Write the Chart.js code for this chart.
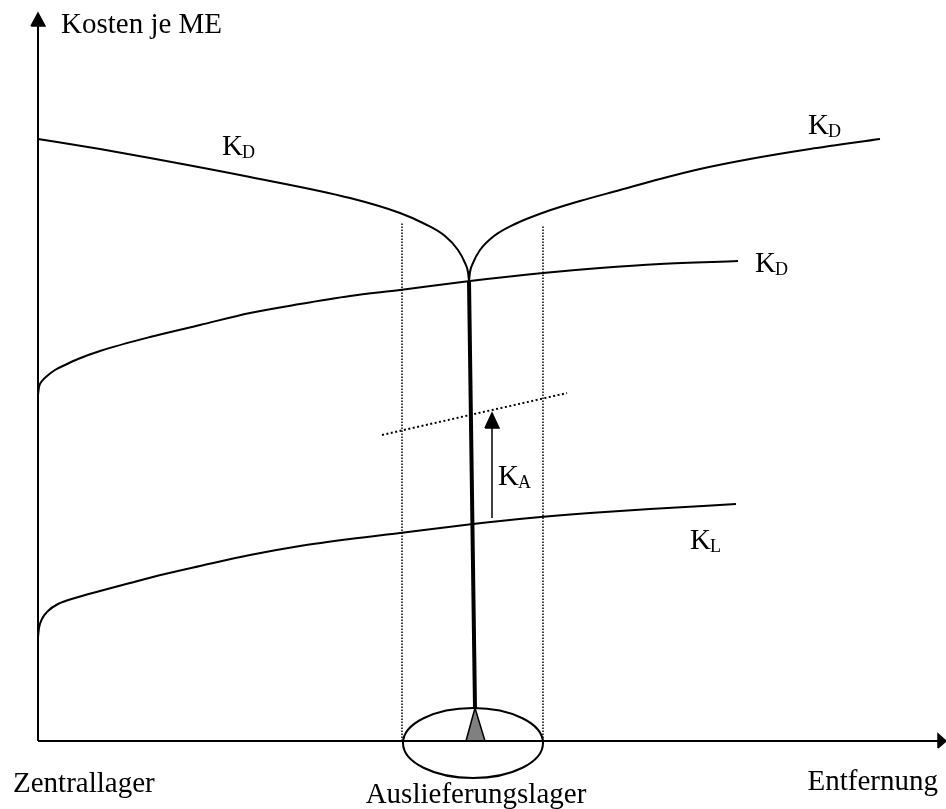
<!DOCTYPE html>
<html lang="de">
<head>
<meta charset="utf-8">
<title>Kosten je ME – Entfernung</title>
<script src="https://cdn.jsdelivr.net/npm/chart.js@4.4.1/dist/chart.umd.min.js"></script>
<style>
  html, body { margin: 0; padding: 0; background: #fff; }
  canvas { display: block; }
</style>
</head>
<body>
<canvas id="chart" width="946" height="809"></canvas>
<script>
// Kurven: [Entfernung, Kosten je ME]
const kdLinks = [[0, 602], [62, 592], [112, 583], [212, 564], [312, 543], [362, 528], [387, 517], [407, 505], [420, 491], [427, 478], [430, 469], [431, 460]];
const kdRechts = [[431, 460], [432, 469], [435, 478], [442, 491], [456, 505], [477, 517], [507, 529], [542, 540], [582, 551], [622, 562], [662, 572], [712, 582], [772, 592], [842, 602]];
const kdMitte = [[0, 346], [1, 354], [4, 360], [9, 365], [17, 371], [27, 376], [40, 382], [62, 390], [112, 404], [162, 416], [212, 428], [262, 437], [312, 445], [362, 451], [432, 460], [505, 468], [562, 473], [622, 477], [700, 480]];
const kl = [[0, 104], [1, 113], [4, 122], [10, 130], [20, 137], [37, 143], [62, 150], [92, 158], [127, 167], [162, 175], [212, 186], [262, 195], [312, 202], [362, 208], [435, 217], [492, 223], [552, 228], [612, 232], [698, 237]];

// Hilfslinien
const kaNiveau = [[344, 306], [529, 348]];
const grenzeLinks = [[364, 0], [364, 519]];
const grenzeRechts = [[505, 0], [505, 516]];
const lagerStandort = [[431, 460], [437, 33]];
const lagerSymbol = [[428, 0], [437, 33], [447, 0], [428, 0]];
const kaPfeil = [[454, 223], [454, 313]];
const kaSpitze = [[447, 313], [454, 328], [461, 313], [447, 313]];

// Achsen
const yAchse = [[0, 0], [0, 716]];
const yAchseSpitze = [[-7, 715], [0, 728], [7, 715], [-7, 715]];
const xAchse = [[0, 0], [900, 0]];
const xAchseSpitze = [[900, -7], [908, 0], [900, 7], [900, -7]];
const lagerKreis = { x: 435, y: -2, rx: 70, ry: 35 };

// Beschriftungen
const kurvenLabels = [
  { text: 'K', sub: 'D', x: 184, y: 586 },
  { text: 'K', sub: 'D', x: 770, y: 607 },
  { text: 'K', sub: 'D', x: 717, y: 469 },
  { text: 'K', sub: 'L', x: 652, y: 192 },
  { text: 'K', sub: 'A', x: 460, y: 256 }
];
const achsenLabels = [
  { text: 'Kosten je ME', x: 23, y: 708, align: 'left' },
  { text: 'Zentrallager', x: -25, y: -51, align: 'left' },
  { text: 'Entfernung', x: 900, y: -49, align: 'right' },
  { text: 'Auslieferungslager', x: 438, y: -62, align: 'center' }
];

const toPoints = arr => arr.map(([x, y]) => ({ x, y }));
const FONT = '"Liberation Serif", "Times New Roman", serif';

function linie(data, opts = {}) {
  return Object.assign({
    data: toPoints(data),
    showLine: true,
    borderColor: '#000',
    borderWidth: 2,
    pointRadius: 0,
    pointHoverRadius: 0,
    fill: false,
    clip: false
  }, opts);
}

const kurve = data => linie(data, { cubicInterpolationMode: 'monotone' });
const gefuellt = (data, farbe) => linie(data, { fill: 'shape', backgroundColor: farbe, borderWidth: 1.5 });

// Ellipse + Texte über die Skalen zeichnen
const beschriftung = {
  id: 'beschriftung',
  afterDatasetsDraw(chart) {
    const { ctx, scales: { x, y } } = chart;
    ctx.save();

    const cx = x.getPixelForValue(lagerKreis.x);
    const cy = y.getPixelForValue(lagerKreis.y);
    const rx = x.getPixelForValue(lagerKreis.x + lagerKreis.rx) - cx;
    const ry = cy - y.getPixelForValue(lagerKreis.y + lagerKreis.ry);
    ctx.beginPath();
    ctx.ellipse(cx, cy, rx, ry, 0, 0, Math.PI * 2);
    ctx.strokeStyle = '#000';
    ctx.lineWidth = 2;
    ctx.stroke();

    ctx.fillStyle = '#000';
    ctx.textBaseline = 'alphabetic';
    achsenLabels.forEach(l => {
      ctx.font = `29px ${FONT}`;
      ctx.textAlign = l.align;
      ctx.fillText(l.text, x.getPixelForValue(l.x), y.getPixelForValue(l.y));
    });

    ctx.textAlign = 'left';
    kurvenLabels.forEach(l => {
      const px = x.getPixelForValue(l.x);
      const py = y.getPixelForValue(l.y);
      ctx.font = `29px ${FONT}`;
      ctx.fillText(l.text, px, py);
      const w = ctx.measureText(l.text).width;
      ctx.font = `18px ${FONT}`;
      ctx.fillText(l.sub, px + w - 1, py + 3);
    });
    ctx.restore();
  }
};

new Chart(document.getElementById('chart'), {
  type: 'scatter',
  data: {
    datasets: [
      linie(yAchse),
      gefuellt(yAchseSpitze, '#000'),
      linie(xAchse),
      gefuellt(xAchseSpitze, '#000'),
      kurve(kdLinks),
      kurve(kdRechts),
      kurve(kdMitte),
      kurve(kl),
      linie(kaNiveau, { borderWidth: 2, borderDash: [2, 2.5] }),
      linie(grenzeLinks, { borderWidth: 1.5, borderDash: [1.5, 1.5] }),
      linie(grenzeRechts, { borderWidth: 1.5, borderDash: [1.5, 1.5] }),
      linie(lagerStandort, { borderWidth: 4 }),
      gefuellt(lagerSymbol, '#808080'),
      linie(kaPfeil, { borderWidth: 1.5 }),
      gefuellt(kaSpitze, '#000')
    ]
  },
  options: {
    responsive: false,
    animation: false,
    layout: { padding: 0 },
    plugins: { legend: { display: false }, tooltip: { enabled: false } },
    scales: {
      x: { type: 'linear', min: -38, max: 908, display: false },
      y: { type: 'linear', min: -68, max: 741, display: false }
    }
  },
  plugins: [beschriftung]
});
</script>
</body>
</html>
